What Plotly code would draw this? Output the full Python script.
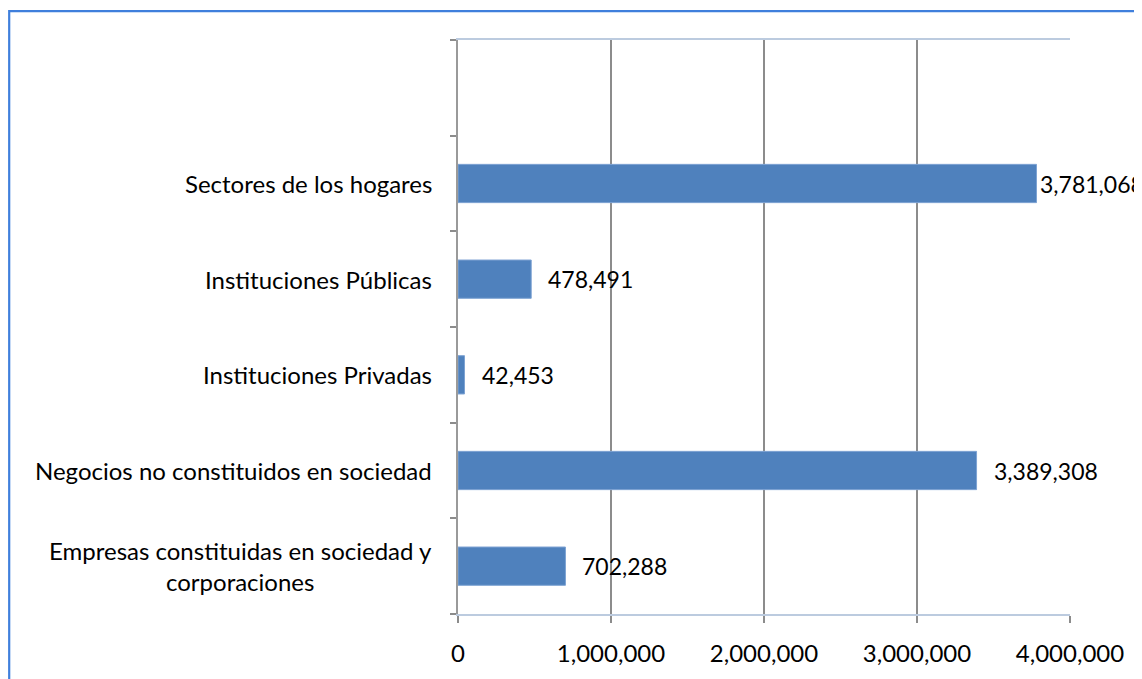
import plotly.graph_objects as go

categories = [
    "Empresas constituidas en sociedad y<br>corporaciones",
    "Negocios no constituidos en sociedad",
    "Instituciones Privadas",
    "Instituciones Públicas",
    "Sectores de los hogares",
    " ",
]
values = [702288, 3389308, 42453, 478491, 3781068, None]
value_labels = ["702,288", "3,389,308", "42,453", "478,491", "3,781,068", ""]
label_shift = [15, 15, 15, 15, 1, 0]
x_tickvals = [0, 1000000, 2000000, 3000000, 4000000]
x_ticktext = ["0", "1,000,000", "2,000,000", "3,000,000", "4,000,000"]

FONT = "Lato, 'Open Sans', sans-serif"
FS = 24
FS_VAL = 23
# the page body adds an 8px offset, so the figure is laid out 8px smaller
OFF = 8
W, H = 1142 - OFF, 679 - OFF
ML, MT = 458 - OFF, 40 - OFF
MR = W - (1070 - OFF)
MB = H - (616 - OFF)
pw = W - ML - MR
ph = H - MT - MB

fig = go.Figure()
fig.add_trace(go.Bar(
    x=values, y=categories, orientation="h",
    marker=dict(color="#4f81bd", line=dict(color="#7ea3d3", width=1)),
    hoverinfo="skip",
))

annotations = []
for c, v, t, s in zip(categories, values, value_labels, label_shift):
    annotations.append(dict(
        x=0, xref="paper", y=c, yref="y", text=c, showarrow=False,
        xanchor="right", yanchor="middle", align="center", xshift=-24,
        font=dict(family=FONT, size=FS, color="#000000"),
    ))
    if v is not None:
        annotations.append(dict(
            x=v, xref="x", y=c, yref="y", text=t, showarrow=False,
            xanchor="left", yanchor="middle", xshift=s,
            font=dict(family=FONT, size=FS_VAL, color="#000000"),
        ))

# outer chart frame (only top and left edges are visible in the picture)
fx0 = (9.2 - OFF - ML) / pw
fy1 = 1 + (MT - (11 - OFF)) / ph
shapes = [dict(type="rect", xref="paper", yref="paper",
               x0=fx0, x1=fx0 + 2.0, y0=-1.0, y1=fy1,
               line=dict(color="#3f7fdc", width=2.2), fillcolor="rgba(0,0,0,0)",
               layer="below")]

fig.update_layout(
    width=W, height=H,
    margin=dict(l=ML, r=MR, t=MT, b=MB, pad=0),
    paper_bgcolor="white", plot_bgcolor="white",
    showlegend=False,
    bargap=0.6,
    annotations=annotations,
    shapes=shapes,
    font=dict(family=FONT, size=FS, color="#000000"),
    xaxis=dict(
        range=[0, 4000000], tickvals=x_tickvals, ticktext=x_ticktext,
        showgrid=True, gridcolor="#8c8c8c", gridwidth=1.5,
        zeroline=False,
        showline=True, linecolor="#bccbdf", linewidth=1.5, mirror=True,
        ticks="outside", ticklen=7, tickcolor="#8c8c8c", tickwidth=1.5,
        ticklabelstandoff=10,
        tickfont=dict(family=FONT, size=FS, color="#000000"),
    ),
    yaxis=dict(
        type="category", categoryorder="array", categoryarray=categories,
        range=[-0.5, len(categories) - 0.5],
        showticklabels=False,
        tickson="boundaries",
        showgrid=False, zeroline=False,
        showline=True, linecolor="#9a9a9a", linewidth=1.5,
        ticks="outside", ticklen=6, tickcolor="#8c8c8c", tickwidth=1.5,
    ),
)

fig.write_html("out.html")
